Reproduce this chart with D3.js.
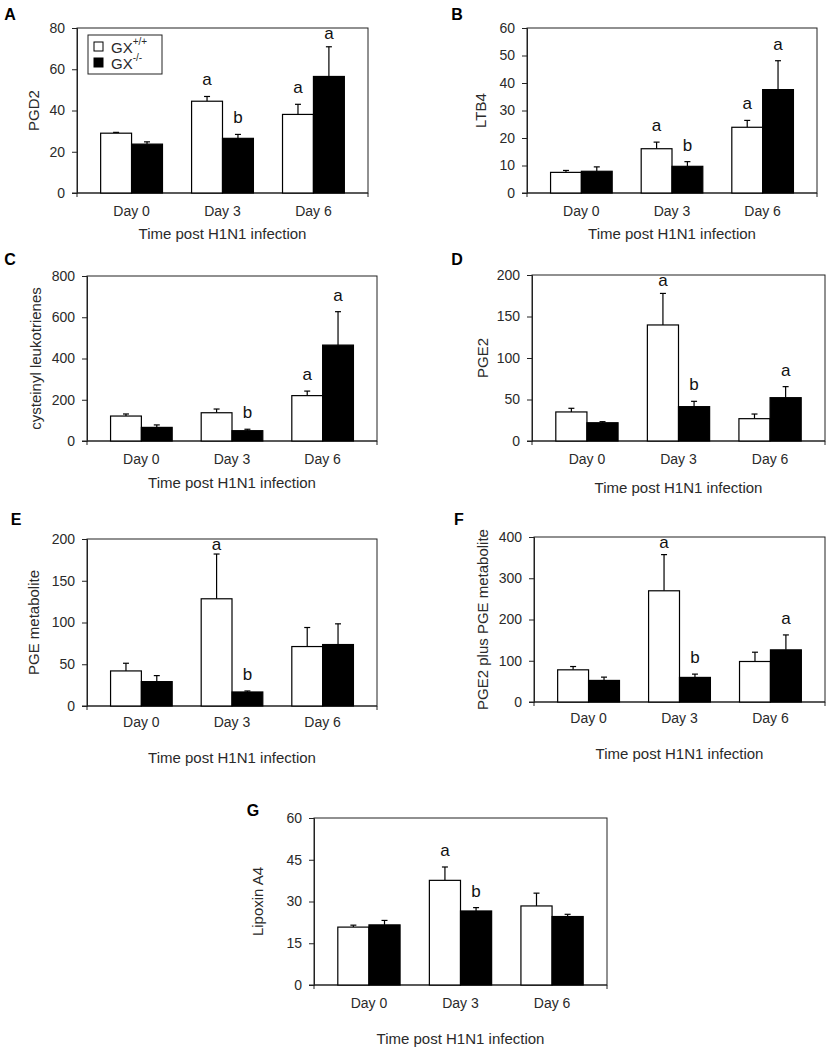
<!DOCTYPE html>
<html>
<head>
<meta charset="utf-8">
<script src="https://cdn.jsdelivr.net/npm/d3@7"></script>
<style>
  html, body { margin: 0; padding: 0; background: #fff; }
  svg { display: block; font-family: "Liberation Sans", Arial, sans-serif; }
</style>
</head>
<body>
<svg id="chart" width="830" height="1050"></svg>
<script>
// ---------- DATA ----------
const days = ["Day 0", "Day 3", "Day 6"];
const xTitle = "Time post H1N1 infection";

// A: PGD2
const pgd2Ticks = [0, 20, 40, 60, 80];
const pgd2WT = [29, 44.5, 38.1];
const pgd2WTErr = [0.4, 2.3, 4.9];
const pgd2KO = [23.7, 26.5, 56.5];
const pgd2KOErr = [1.1, 1.9, 14.4];
const pgd2WTSig = ["", "a", "a"];
const pgd2KOSig = ["", "b", "a"];

// B: LTB4
const ltb4Ticks = [0, 10, 20, 30, 40, 50, 60];
const ltb4WT = [7.5, 16.1, 23.9];
const ltb4WTErr = [0.7, 2.4, 2.5];
const ltb4KO = [7.9, 9.7, 37.6];
const ltb4KOErr = [1.6, 1.7, 10.5];
const ltb4WTSig = ["", "a", "a"];
const ltb4KOSig = ["", "b", "a"];

// C: cysteinyl leukotrienes
const cysTicks = [0, 200, 400, 600, 800];
const cysWT = [121, 137, 220];
const cysWTErr = [10, 18, 22];
const cysKO = [66, 50, 465];
const cysKOErr = [12, 7, 162];
const cysWTSig = ["", "", "a"];
const cysKOSig = ["", "b", "a"];

// D: PGE2
const pge2Ticks = [0, 50, 100, 150, 200];
const pge2WT = [35, 139.8, 26.9];
const pge2WTErr = [4.4, 38, 5.6];
const pge2KO = [22, 41.4, 52.2];
const pge2KOErr = [1.3, 6.4, 13.3];
const pge2WTSig = ["", "a", ""];
const pge2KOSig = ["", "b", "a"];

// E: PGE metabolite
const pgemTicks = [0, 50, 100, 150, 200];
const pgemWT = [42, 128.4, 71.2];
const pgemWTErr = [9.2, 53.6, 22.8];
const pgemKO = [29.2, 16.8, 73.6];
const pgemKOErr = [7.2, 1.2, 24.8];
const pgemWTSig = ["", "a", ""];
const pgemKOSig = ["", "b", ""];

// F: PGE2 plus PGE metabolite
const sumTicks = [0, 100, 200, 300, 400];
const sumWT = [78, 269.6, 98.2];
const sumWTErr = [8, 87.7, 22.5];
const sumKO = [52.3, 59.6, 126.4];
const sumKOErr = [8, 8, 36.2];
const sumWTSig = ["", "a", ""];
const sumKOSig = ["", "b", "a"];

// G: Lipoxin A4
const lxaTicks = [0, 15, 30, 45, 60];
const lxaWT = [20.8, 37.6, 28.4];
const lxaWTErr = [0.7, 4.8, 4.6];
const lxaKO = [21.6, 26.6, 24.6];
const lxaKOErr = [1.6, 1.2, 0.8];
const lxaWTSig = ["", "a", ""];
const lxaKOSig = ["", "b", ""];

// ---------- PANELS (data refs + layout) ----------
const panels = [
  {id:"A", yLabel:"PGD2", ticks:pgd2Ticks, wt:pgd2WT, wtE:pgd2WTErr, ko:pgd2KO, koE:pgd2KOErr, wtS:pgd2WTSig, koS:pgd2KOSig,
   box:{l:77,t:28,r:368,b:193}, tickDy:18, titleDy:40, yTitleX:33, letter:[10,14], legend:true},
  {id:"B", yLabel:"LTB4", ticks:ltb4Ticks, wt:ltb4WT, wtE:ltb4WTErr, ko:ltb4KO, koE:ltb4KOErr, wtS:ltb4WTSig, koS:ltb4KOSig,
   box:{l:527,t:28,r:817,b:193}, tickDy:18, titleDy:40, yTitleX:480, letter:[457,14]},
  {id:"C", yLabel:"cysteinyl leukotrienes", ticks:cysTicks, wt:cysWT, wtE:cysWTErr, ko:cysKO, koE:cysKOErr, wtS:cysWTSig, koS:cysKOSig,
   box:{l:87,t:276,r:377,b:441}, tickDy:18, titleDy:41, yTitleX:35, letter:[10,259]},
  {id:"D", yLabel:"PGE2", ticks:pge2Ticks, wt:pge2WT, wtE:pge2WTErr, ko:pge2KO, koE:pge2KOErr, wtS:pge2WTSig, koS:pge2KOSig,
   box:{l:532,t:275,r:825,b:441}, tickDy:18, titleDy:46, yTitleX:482, letter:[457,259]},
  {id:"E", yLabel:"PGE metabolite", ticks:pgemTicks, wt:pgemWT, wtE:pgemWTErr, ko:pgemKO, koE:pgemKOErr, wtS:pgemWTSig, koS:pgemKOSig,
   box:{l:87,t:539,r:377,b:706}, tickDy:16, titleDy:51, yTitleX:33, letter:[16,519]},
  {id:"F", yLabel:"PGE2 plus PGE metabolite", ticks:sumTicks, wt:sumWT, wtE:sumWTErr, ko:sumKO, koE:sumKOErr, wtS:sumWTSig, koS:sumKOSig,
   box:{l:534,t:537,r:825,b:702}, tickDy:16, titleDy:51, yTitleX:482, letter:[459,519]},
  {id:"G", yLabel:"Lipoxin A4", ticks:lxaTicks, wt:lxaWT, wtE:lxaWTErr, ko:lxaKO, koE:lxaKOErr, wtS:lxaWTSig, koS:lxaKOSig,
   box:{l:314,t:818,r:607,b:985}, tickDy:18, titleDy:53, yTitleX:257, letter:[253,810]}
];

const svg = d3.select("#chart");
const ink = "#222";
const txt = "#2a2a2a";

panels.forEach(p => {
  const B = p.box;
  const g = svg.append("g");
  const x0 = d3.scaleBand().domain(days).range([B.l, B.r]).paddingInner(0.32).paddingOuter(0.26);
  const x1 = d3.scaleBand().domain(["wt","ko"]).range([0, x0.bandwidth()]);
  const y = d3.scaleLinear().domain([p.ticks[0], p.ticks[p.ticks.length-1]]).range([B.b, B.t]);

  // frame
  g.append("rect").attr("x", B.l).attr("y", B.t).attr("width", B.r - B.l).attr("height", B.b - B.t)
    .attr("fill", "none").attr("stroke", ink).attr("stroke-width", 1);

  // y axis
  const ya = g.append("g").attr("transform", `translate(${B.l},0)`)
    .call(d3.axisLeft(y).tickValues(p.ticks).tickSize(5).tickPadding(7).tickFormat(d3.format("d")));
  ya.select(".domain").attr("stroke", ink);
  ya.selectAll(".tick line").attr("stroke", ink);
  ya.selectAll(".tick text").attr("font-size", 14).attr("fill", txt).attr("font-family", "Liberation Sans, Arial, sans-serif");

  // x axis bottom edge ticks
  g.append("line").attr("x1", B.l - 5).attr("x2", B.r).attr("y1", B.b).attr("y2", B.b).attr("stroke", ink);
  [B.l, B.r].forEach(xx => g.append("line").attr("x1", xx).attr("x2", xx).attr("y1", B.b).attr("y2", B.b + 4).attr("stroke", ink));

  // x tick labels
  g.selectAll(".xl").data(days).enter().append("text")
    .attr("x", d => x0(d) + x0.bandwidth()/2).attr("y", B.b + p.tickDy)
    .attr("text-anchor", "middle").attr("dominant-baseline", "central")
    .attr("font-size", 14).attr("fill", txt).text(d => d);

  // x title
  g.append("text").attr("x", (B.l + B.r)/2).attr("y", B.b + p.titleDy)
    .attr("text-anchor", "middle").attr("dominant-baseline", "central")
    .attr("font-size", 15).attr("fill", txt).text(xTitle);

  // y title
  g.append("text").attr("transform", `translate(${p.yTitleX},${(B.t + B.b)/2}) rotate(-90)`)
    .attr("text-anchor", "middle").attr("dominant-baseline", "central")
    .attr("font-size", 15).attr("fill", txt).text(p.yLabel);

  // panel letter
  g.append("text").attr("x", p.letter[0]).attr("y", p.letter[1])
    .attr("text-anchor", "middle").attr("dominant-baseline", "central")
    .attr("font-size", 16).attr("font-weight", "bold").attr("fill", "#000").text(p.id);

  // bars
  const rows = [];
  days.forEach((d, i) => {
    rows.push({day:d, s:"wt", v:p.wt[i], e:p.wtE[i], sig:p.wtS[i]});
    rows.push({day:d, s:"ko", v:p.ko[i], e:p.koE[i], sig:p.koS[i]});
  });
  const cx = r => x0(r.day) + x1(r.s) + x1.bandwidth()/2;

  // error bars (upper only)
  g.selectAll(".eb").data(rows).enter().append("line")
    .attr("x1", cx).attr("x2", cx).attr("y1", r => y(r.v)).attr("y2", r => y(r.v + r.e))
    .attr("stroke", "#000").attr("stroke-width", 1.2);
  g.selectAll(".ec").data(rows).enter().append("line")
    .attr("x1", r => cx(r) - 3).attr("x2", r => cx(r) + 3).attr("y1", r => y(r.v + r.e)).attr("y2", r => y(r.v + r.e))
    .attr("stroke", "#000").attr("stroke-width", 1.2);

  g.selectAll(".bar").data(rows).enter().append("rect")
    .attr("x", r => x0(r.day) + x1(r.s)).attr("width", x1.bandwidth())
    .attr("y", r => y(r.v)).attr("height", r => y(0) - y(r.v))
    .attr("fill", r => r.s === "wt" ? "#fff" : "#000")
    .attr("stroke", "#000").attr("stroke-width", 1.2);

  // significance letters
  g.selectAll(".sig").data(rows.filter(r => r.sig)).enter().append("text")
    .attr("x", cx).attr("y", r => Math.max(y(r.v + r.e) - 11, B.t + 11))
    .attr("text-anchor", "middle").attr("font-size", 17).attr("fill", "#111").text(r => r.sig);

  // legend
  if (p.legend) {
    const lg = g.append("g");
    lg.append("rect").attr("x", B.l + 11).attr("y", B.t + 7).attr("width", 74).attr("height", 39)
      .attr("fill", "#fff").attr("stroke", ink);
    const items = [{fill:"#fff", sup:"+/+"}, {fill:"#000", sup:"-/-"}];
    items.forEach((it, i) => {
      const yy = B.t + 19 + i * 16;
      lg.append("rect").attr("x", B.l + 17).attr("y", yy - 5).attr("width", 9).attr("height", 9)
        .attr("fill", it.fill).attr("stroke", "#000");
      const t = lg.append("text").attr("x", B.l + 34).attr("y", yy).attr("dominant-baseline", "central")
        .attr("font-size", 15).attr("fill", txt);
      t.append("tspan").text("GX");
      t.append("tspan").attr("dy", -6).attr("font-size", 10).text(it.sup);
    });
  }
});
</script>
</body>
</html>
